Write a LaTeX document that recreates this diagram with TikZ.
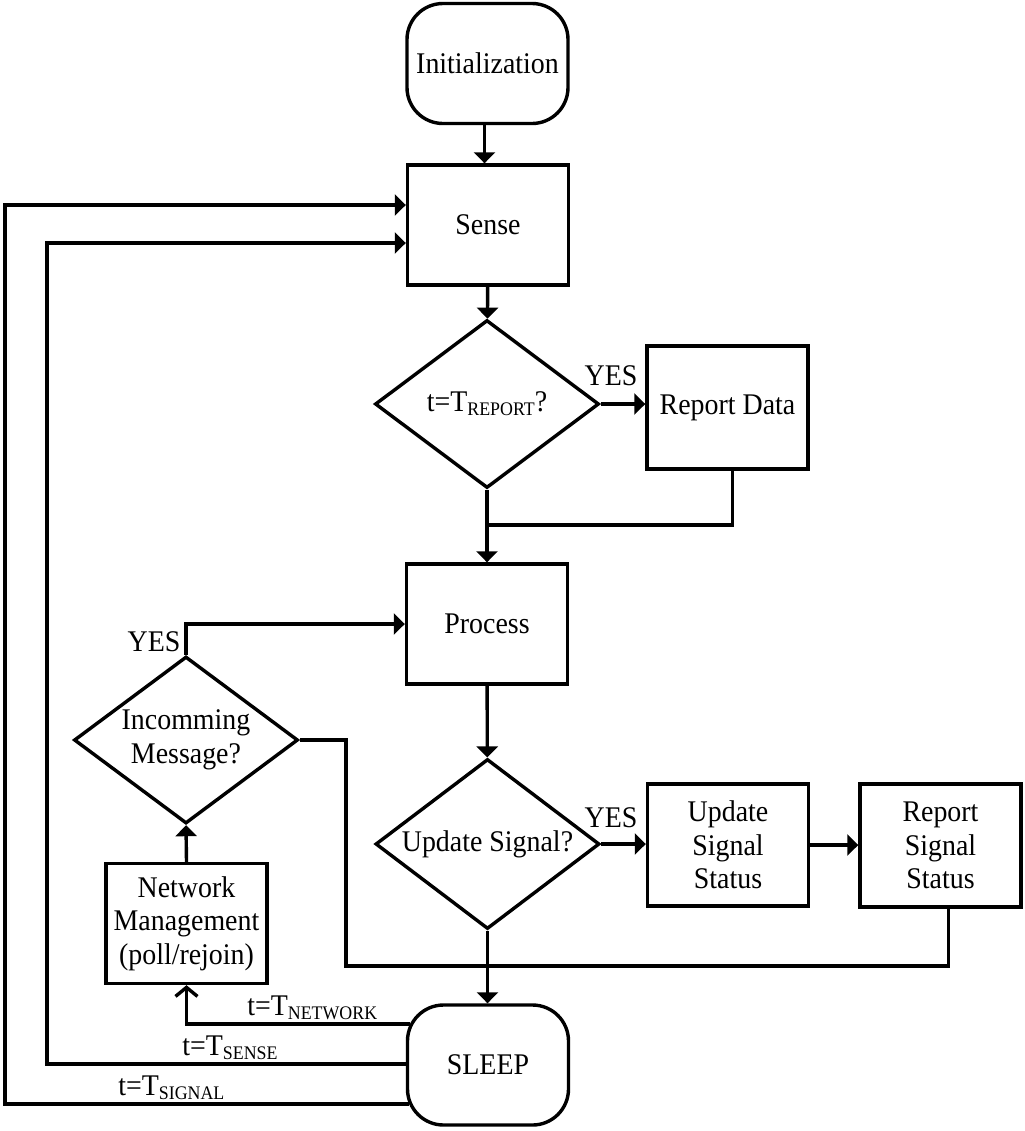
\documentclass[tikz,border=0pt]{standalone}
\usepackage{fontspec}
\setmainfont{Liberation Serif}[FakeStretch=0.93]
\usetikzlibrary{shapes.geometric,arrows.meta,calc}
\newcommand{\lowsub}[1]{\raisebox{-2pt}{\fontsize{9.6}{9.6}\selectfont #1}}
\begin{document}
\begin{tikzpicture}[x=0.5pt,y=-0.5pt,
  every node/.style={font=\fontsize{15}{16.8}\selectfont, inner sep=0pt, align=center},
  box/.style={draw, rectangle, line width=1.7pt, minimum width=80.5pt, minimum height=60pt},
  term/.style={box, rounded corners=18pt},
  dec/.style={draw, diamond, aspect=1.33, line width=1.7pt, minimum width=112pt, minimum height=84pt},
  flow/.style={line width=1.7pt, -{Triangle[length=5.5pt,width=10.5pt]}},
  link/.style={line width=1.7pt},
  barb/.style={line width=1.7pt, -{Straight Barb[length=4.5pt,width=11pt]}},
  lbl/.style={anchor=base west},
  yes/.style={anchor=base}
]
\useasboundingbox (0,0) rectangle (1024,1131);

% nodes
\node[term] (init) at (487.5,63.5) {Initialization};
\node[box]  (sense) at (488,225) {Sense};
\node[dec]  (d1) at (487,404) {t=T\lowsub{REPORT}?};
\node[box, minimum height=61.5pt] (rd) at (727.5,407.5) {Report Data};
\node[box]  (proc) at (487,624) {Process};
\node[dec, minimum height=85pt] (d2) at (487.5,844) {Update Signal?};
\node[box, minimum height=61pt] (uss) at (728,845) {Update\\Signal\\Status};
\node[box, minimum height=61.5pt] (rss) at (940.5,845.5) {Report\\Signal\\Status};
\node[dec, minimum height=83.5pt] (d3) at (186,740) {Incomming\\Message?};
\node[box] (nm) at (186.5,923.5) {Network\\Management\\(poll/rejoin)};
\node[term] (sleep) at (488,1065) {SLEEP};

% labels
\node[yes] (y1) at (611,385) {YES};
\node[yes] (y2) at (611,827) {YES};
\node[yes] (y3) at (154,651) {YES};
\node[lbl] (lnet) at (247,1015) {t=T\lowsub{NETWORK}};
\node[lbl] (lsen) at (182,1055) {t=T\lowsub{SENSE}};
\node[lbl] (lsig) at (118,1095) {t=T\lowsub{SIGNAL}};

% helper coordinates
\coordinate (s1) at ($(sleep.west)+(4,-41)$);
\coordinate (s2) at ($(sleep.west)+(1,-1)$);
\coordinate (s3) at ($(sleep.west)+(3,39)$);
\coordinate (k1) at (47,243);
\coordinate (k2) at (5,205);
\coordinate (j1) at (487,525);
\coordinate (c1) at (346,966);
\coordinate (rdo) at ($(rd.south)+(5,0)$);
\coordinate (rsso) at ($(rss.south)+(8,0)$);
\coordinate (inito) at ($(init.south)+(-3,0)$);

% connectors
\draw[flow] (inito) -- (inito |- sense.north);
\draw[flow] (sense) -- (d1);
\draw[flow] (d1.east) -- (d1.east -| rd.west);
\draw[link] (rdo) |- (j1);
\draw[flow] (d1.south) -- (d1.south |- proc.north);
\draw[flow] (proc) -- (d2);
\draw[flow] (d2.east) -- (d2.east -| uss.west);
\draw[flow] (uss.east) -- (uss.east -| rss.west);
\draw[flow] (d2.south) -- (d2.south |- sleep.north);
\draw[link] (rsso) |- (c1) |- (d3.east);
\draw[flow] (d3.north) |- (proc.west);
\draw[flow] (nm.north) -- (d3.south);
\draw[barb] (s1) -| (nm.south);
\draw[flow] (s2) -| (k1) -- (k1 -| sense.west);
\draw[flow] (s3) -| (k2) -- (k2 -| sense.west);
\end{tikzpicture}
\end{document}
